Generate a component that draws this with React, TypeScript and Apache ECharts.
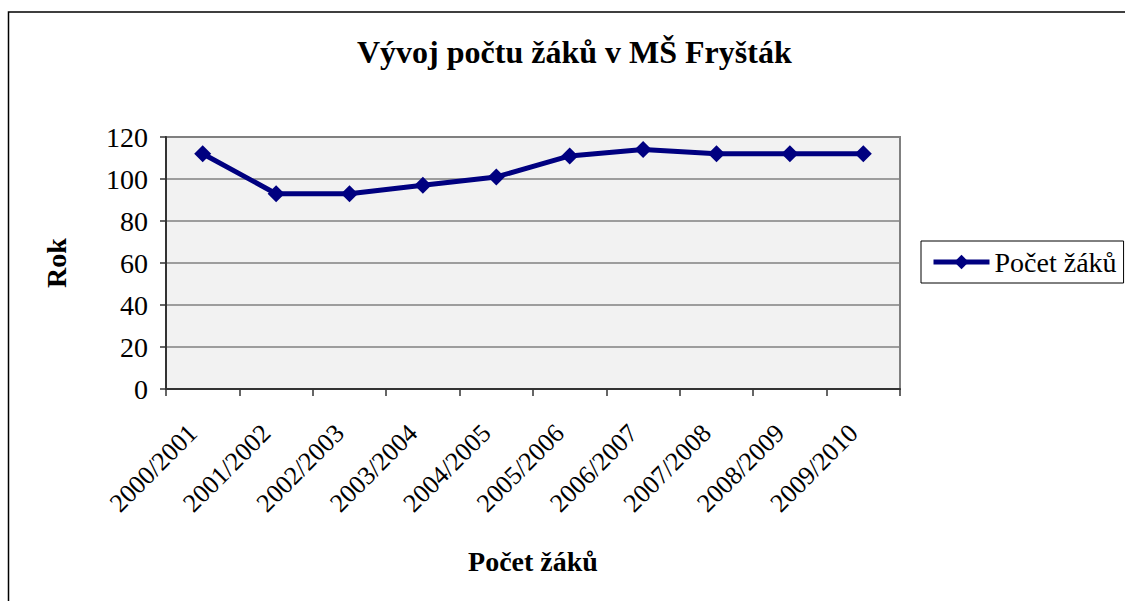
import React, { useEffect, useRef } from "react";
import * as echarts from "echarts";

const categories = [
  "2000/2001", "2001/2002", "2002/2003", "2003/2004", "2004/2005",
  "2005/2006", "2006/2007", "2007/2008", "2008/2009", "2009/2010",
];
const values = [112, 93, 93, 97, 101, 111, 114, 112, 112, 112];
const seriesName = "Počet žáků";
const titleText = "Vývoj počtu žáků v MŠ Fryšták";
const xName = "Počet žáků";
const yName = "Rok";

const FONT = "'Liberation Serif', 'Times New Roman', serif";

export default function App() {
  const ref = useRef<HTMLDivElement>(null);
  useEffect(() => {
    if (!ref.current) return;
    const chart = echarts.init(ref.current, null, { renderer: "svg" });
    chart.setOption({
      animation: false,
      backgroundColor: "#ffffff",
      textStyle: { fontFamily: FONT, color: "#000" },
      title: {
        text: titleText,
        left: 357,
        top: 36,
        padding: 0,
        textStyle: { fontFamily: FONT, fontSize: 32, fontWeight: "bold", color: "#000" },
      },
      graphic: [
        {
          type: "rect",
          shape: { x: 8.5, y: 12, width: 1300, height: 800 },
          style: { fill: "none", stroke: "#000", lineWidth: 1.5 },
          silent: true,
        },
      ],
      legend: {
        left: 921,
        top: 241,
        orient: "vertical",
        padding: [7, 7, 7, 10],
        borderColor: "#000",
        borderWidth: 1,
        itemWidth: 56,
        itemHeight: 18,
        lineStyle: { width: 5, color: "#000080" },
        textStyle: { fontFamily: FONT, fontSize: 28, color: "#000" },
        data: [seriesName],
      },
      grid: {
        left: 166,
        right: 225,
        top: 137,
        bottom: 212,
        show: true,
        backgroundColor: "#f2f2f2",
        borderColor: "#808080",
        borderWidth: 2,
      },
      xAxis: {
        type: "category",
        data: categories,
        boundaryGap: true,
        name: xName,
        nameLocation: "middle",
        nameGap: 158,
        nameTextStyle: { fontFamily: FONT, fontSize: 28, fontWeight: "bold", color: "#000" },
        axisLine: { show: true, lineStyle: { color: "#333", width: 2 } },
        axisTick: { show: true, alignWithLabel: false, length: 7, lineStyle: { color: "#333", width: 1.5 } },
        axisLabel: {
          rotate: 45,
          interval: 0,
          margin: 30,
          padding: [0, 14, 0, 0],
          fontFamily: FONT,
          fontSize: 26,
          color: "#000",
        },
        splitLine: { show: false },
      },
      yAxis: {
        type: "value",
        min: 0,
        max: 120,
        interval: 20,
        name: yName,
        nameLocation: "middle",
        nameGap: 96,
        nameTextStyle: { fontFamily: FONT, fontSize: 28, fontWeight: "bold", color: "#000" },
        axisLine: { show: true, lineStyle: { color: "#333", width: 2 } },
        axisTick: { show: true, length: 6, lineStyle: { color: "#333", width: 1.5 } },
        axisLabel: { margin: 18, fontFamily: FONT, fontSize: 28, color: "#000" },
        splitLine: { show: true, lineStyle: { color: "#808080", width: 1.5 } },
      },
      series: [
        {
          name: seriesName,
          type: "line",
          data: values,
          symbol: "diamond",
          symbolSize: 17,
          lineStyle: { color: "#000080", width: 5 },
          itemStyle: { color: "#000080" },
        },
      ],
    });
    return () => chart.dispose();
  }, []);
  return (
    <div
      ref={ref}
      style={{ position: "absolute", left: 0, top: 0, width: 1125, height: 601 }}
    />
  );
}
